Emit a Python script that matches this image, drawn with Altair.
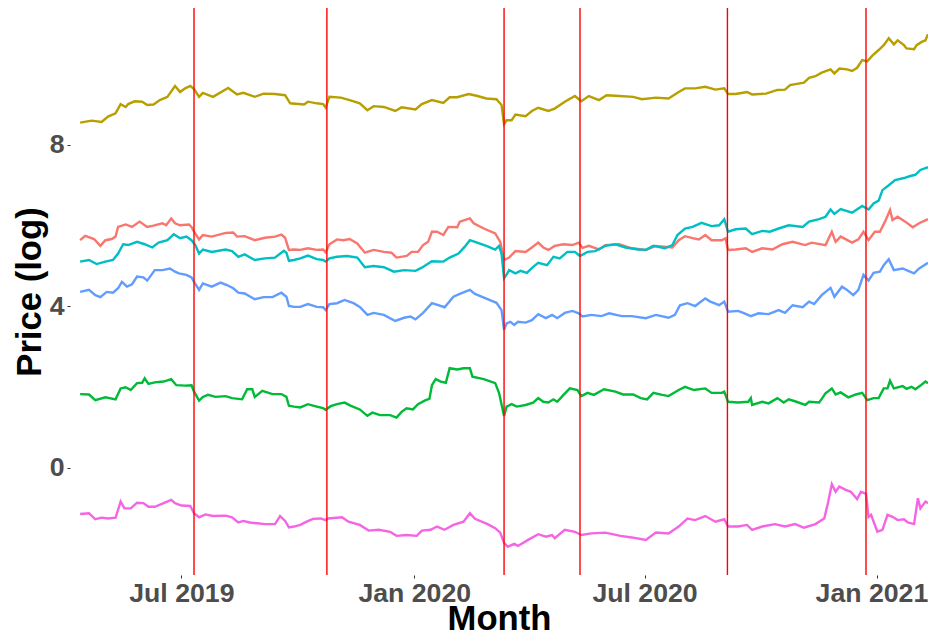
import altair as alt
import pandas as pd

START = pd.Timestamp("2019-04-12")

series_names = ["s1", "s2", "s3", "s4", "s5", "s6"]
series_colors = ["#F8766D", "#B79F00", "#00BA38", "#00BFC4", "#619CFF", "#F564E3"]

# days since 2019-04-12, values (log price)
s1_days = [0,4,11,16,20,25,28,30,36,41, 47,53,58,65,68,72,75,79,86,88,
           90,94,97,104,115,121,124,130,138,146, 154,159,162,165,169,174,180,187,192,194,
           197,203,208,213,219,225,232,240,246,250, 258,262,267,271,275,278,282,287,291,298,
           300,308,311,319,328,332,335,339,344,352, 357,362,366,370,375,382,389,394,397,402,
           410,415,426,436,447,455,468,473,478,484, 489,494,499,507,510,512,518,526,531,539,
           547,555,563,573,578,589,594,597,601,610, 615,619,623,628,632,636,640,642,646,652,
           658,663,670]
s1_vals = [5.64,5.75,5.67,5.50,5.64,5.67,5.73,5.97,6.03,5.97, 6.10,5.97,6.00,6.06,6.01,6.18,6.06,6.01,6.03,5.97,
           5.85,5.66,5.77,5.73,5.82,5.83,5.73,5.74,5.64,5.70, 5.73,5.78,5.70,5.40,5.41,5.40,5.44,5.40,5.41,5.34,
           5.54,5.66,5.64,5.67,5.56,5.33,5.40,5.35,5.33,5.21, 5.25,5.35,5.35,5.52,5.60,5.85,5.85,5.77,5.97,5.96,
           6.10,6.18,6.06,5.93,5.81,5.60,5.15,5.21,5.37,5.35, 5.46,5.58,5.46,5.40,5.50,5.54,5.52,5.58,5.45,5.50,
           5.41,5.52,5.54,5.44,5.40,5.50,5.46,5.64,5.74,5.69, 5.66,5.77,5.64,5.64,5.69,5.40,5.41,5.44,5.35,5.44,
           5.41,5.54,5.60,5.52,5.58,5.52,5.85,5.60,5.73,5.58, 5.66,5.85,5.64,5.85,5.85,6.10,6.39,6.14,6.22,6.10,
           5.96,6.06,6.16]

s2_days = [0,9,17,22,28,32,36,38,43,49, 53,58,63,69,75,79,83,87,90,94,
           97,105,117,124,129,138,145,154,162,166, 177,180,187,192,194,197,206,213,221,227,
           232,240,249,254,265,270,278,287,292,298, 307,314,321,329,333,335,337,341,344,352,
           357,362,370,375,383,391,396,402,410,416, 426,437,444,455,465,473,478,486,494,502,
           509,512,518,527,531,542,551,557,561,572, 576,581,586,593,596,600,606,610,614,618,
           622,626,631,635,639,643,646,651,653,659, 661,665,668,670]
s2_vals = [8.55,8.60,8.57,8.70,8.78,9.01,8.94,9.01,9.08,9.07, 8.99,9.00,9.11,9.19,9.46,9.31,9.40,9.46,9.38,9.19,
           9.29,9.19,9.41,9.25,9.29,9.19,9.27,9.26,9.23,9.03, 9.00,9.07,9.03,9.01,8.92,9.19,9.17,9.11,9.03,8.86,
           8.96,8.94,8.84,8.93,8.88,9.01,9.11,9.04,9.18,9.18, 9.26,9.21,9.15,9.13,8.99,8.51,8.61,8.61,8.75,8.71,
           8.84,8.92,8.84,8.90,9.07,9.21,9.08,9.21,9.11,9.23, 9.21,9.19,9.13,9.17,9.15,9.31,9.40,9.40,9.44,9.37,
           9.40,9.26,9.26,9.31,9.25,9.27,9.36,9.37,9.48,9.54, 9.66,9.70,9.79,9.87,9.77,9.89,9.87,9.83,9.91,10.10,
           10.07,10.21,10.35,10.47,10.64,10.49,10.59,10.47,10.39,10.37, 10.47,10.55,10.59,10.74]

s3_days = [0,7,12,20,28,32,36,40,45,49, 51,54,59,66,72,76,83,88,90,94,
           97,101,107,115,120,128,132,136,138,144, 152,159,163,165,169,174,180,187,192,194,
           198,203,209,214,221,227,231,237,245,250, 254,258,263,267,273,276,278,281,285,289,
           292,298,303,308,310,319,328,331,335,337, 341,345,352,358,362,366,370,374,377,382,
           387,393,396,401,406,414,423,429,437,443, 448,453,460,465,473,478,485,494,499,507,
           509,512,520,528,530,531,539,544,551,556, 560,566,573,576,584,589,594,597,601,607,
           613,618,622,627,631,635,638,640,643,650, 653,657,660,664,668,670]
s3_vals = [1.83,1.82,1.68,1.75,1.70,1.97,2.00,1.93,2.10,2.11, 2.22,2.08,2.12,2.14,2.20,2.05,2.04,2.05,1.89,1.67,
           1.76,1.81,1.76,1.78,1.73,1.70,1.95,1.95,1.76,1.91, 1.83,1.83,1.76,1.54,1.52,1.50,1.58,1.52,1.48,1.44,
           1.53,1.58,1.62,1.54,1.45,1.29,1.37,1.31,1.31,1.25, 1.39,1.48,1.45,1.58,1.68,1.71,2.05,2.20,2.14,2.11,
           2.47,2.44,2.47,2.47,2.26,2.20,2.10,1.86,1.29,1.52, 1.58,1.52,1.56,1.62,1.73,1.64,1.62,1.70,1.64,1.81,
           1.97,1.93,1.78,1.86,1.81,1.95,1.89,1.82,1.82,1.73, 1.70,1.86,1.81,1.78,1.93,2.01,1.93,1.97,1.86,1.86,
           1.89,1.64,1.62,1.64,1.73,1.56,1.64,1.60,1.73,1.62, 1.70,1.64,1.56,1.64,1.62,1.85,1.97,1.82,1.87,1.75,
           1.82,1.86,1.68,1.73,1.73,1.97,1.97,2.16,1.97,2.03, 1.96,2.01,1.95,2.04,2.14,2.10]

s4_days = [0,7,13,20,26,30,34,38,45,51, 57,62,69,74,79,84,88,91,94,97,
           104,115,120,125,130,138,146,154,161,163, 165,169,174,180,187,192,194,197,203,211,
           219,225,232,240,248,256,265,270,278,287, 292,299,304,308,312,321,328,331,333,335,
           337,339,344,348,353,358,362,369,374,379, 385,391,395,401,407,415,423,431,441,447,
           453,462,468,472,478,484,491,499,505,509, 512,518,526,531,539,545,552,560,571,576,
           584,589,593,596,601,610,618,623,627,631, 634,639,644,651,656,660,664,670]
s4_vals = [5.11,5.15,5.05,5.11,5.15,5.31,5.54,5.52,5.60,5.54, 5.46,5.58,5.64,5.79,5.69,5.73,5.64,5.52,5.31,5.41,
           5.35,5.41,5.37,5.23,5.29,5.15,5.19,5.21,5.38,5.33, 5.13,5.15,5.19,5.26,5.17,5.15,5.11,5.19,5.23,5.25,
           5.21,4.97,5.00,4.97,4.86,4.90,4.88,4.96,5.12,5.11, 5.21,5.31,5.48,5.64,5.60,5.50,5.41,5.50,5.31,4.70,
           4.79,4.90,4.82,4.88,4.83,4.98,5.08,5.02,5.23,5.19, 5.35,5.35,5.25,5.35,5.37,5.50,5.54,5.46,5.41,5.40,
           5.50,5.44,5.52,5.77,5.93,5.97,6.07,5.99,6.01,6.16, 5.85,5.91,5.93,5.79,5.87,5.85,5.93,6.01,5.97,6.10,
           6.16,6.22,6.40,6.29,6.41,6.32,6.49,6.40,6.55,6.62, 6.88,7.00,7.13,7.18,7.23,7.26,7.38,7.45]

s5_days = [0,7,12,16,21,26,30,33,37,41, 45,50,53,59,65,71,75,78,84,88,
           90,94,97,104,111,116,121,125,130,138, 145,152,159,163,165,169,174,180,187,192,
           194,197,203,209,216,221,227,232,240,249, 256,261,265,271,278,283,288,295,300,308,
           312,322,329,333,335,337,340,343,346,352, 357,362,368,373,377,383,389,394,397,404,
           412,418,428,436,447,455,465,470,474,480, 486,494,498,505,509,512,520,524,530,536,
           544,552,557,563,571,576,580,586,593,596, 602,606,611,615,619,623,627,632,635,639,
           643,650,653,659,663,670]
s5_vals = [4.36,4.41,4.28,4.23,4.36,4.34,4.45,4.61,4.49,4.55, 4.74,4.72,4.64,4.90,4.90,4.94,4.86,4.82,4.78,4.72,
           4.61,4.41,4.57,4.49,4.59,4.53,4.45,4.34,4.32,4.18, 4.23,4.23,4.34,4.24,4.01,3.99,3.99,4.06,3.99,3.98,
           3.91,4.06,4.08,4.16,4.08,3.99,3.79,3.84,3.79,3.64, 3.72,3.75,3.68,3.84,4.08,4.03,3.98,4.24,4.31,4.41,
           4.31,4.18,4.09,3.91,3.42,3.58,3.62,3.54,3.62,3.60, 3.66,3.81,3.71,3.79,3.71,3.84,3.89,3.83,3.75,3.79,
           3.76,3.83,3.76,3.76,3.71,3.79,3.72,3.79,4.03,4.08, 4.01,4.20,4.12,4.03,4.12,3.87,3.89,3.84,3.76,3.83,
           3.81,3.91,3.84,4.03,3.98,4.12,4.06,4.28,4.46,4.24, 4.49,4.41,4.28,4.41,4.78,4.64,4.83,4.86,5.02,5.17,
           4.90,4.94,4.90,4.82,4.94,5.08]

s6_days = [0,7,12,17,22,28,30,32,35,40, 45,50,54,59,66,72,75,80,87,90,
           94,99,105,115,120,125,129,134,140,146, 154,158,162,165,169,174,179,184,190,194,
           196,207,212,221,228,236,245,250,258,266, 270,277,282,288,295,303,308,312,322,328,
           332,335,338,343,346,354,362,368,373,375, 383,391,396,404,415,427,436,447,455,465,
           473,480,486,494,502,509,512,520,527,531, 539,549,557,565,572,581,588,591,594,597,
           600,605,609,614,617,621,623,625,630,634, 638,642,646,651,654,659,662,664,668,670]
s6_vals = [-1.14,-1.12,-1.27,-1.23,-1.25,-1.23,-1.04,-0.83,-1.00,-1.00, -0.86,-0.87,-0.96,-0.96,-0.87,-0.79,-0.87,-0.93,-0.94,-1.12,
           -1.22,-1.15,-1.19,-1.18,-1.22,-1.35,-1.31,-1.35,-1.37,-1.39, -1.39,-1.19,-1.31,-1.47,-1.45,-1.41,-1.33,-1.26,-1.25,-1.29,
           -1.25,-1.22,-1.33,-1.41,-1.55,-1.53,-1.58,-1.68,-1.66,-1.68, -1.55,-1.53,-1.45,-1.53,-1.41,-1.33,-1.12,-1.26,-1.39,-1.49,
           -1.60,-1.86,-1.95,-1.88,-1.93,-1.78,-1.64,-1.70,-1.66,-1.74, -1.53,-1.58,-1.66,-1.62,-1.60,-1.68,-1.72,-1.78,-1.60,-1.62,
           -1.45,-1.25,-1.29,-1.19,-1.33,-1.27,-1.45,-1.45,-1.41,-1.53, -1.45,-1.39,-1.45,-1.39,-1.48,-1.39,-1.25,-0.86,-0.40,-0.59,
           -0.46,-0.54,-0.59,-0.77,-0.59,-0.64,-1.21,-1.16,-1.58,-1.53, -1.16,-1.21,-1.29,-1.27,-1.35,-1.39,-0.75,-1.00,-0.83,-0.87]

event_dates = ["2019-07-11 00:00", "2019-10-24 00:00", "2020-03-12 00:00",
               "2020-05-11 00:00", "2020-09-04 12:00", "2020-12-23 00:00"]
y_ticks = [0, 4, 8]

all_days = [s1_days, s2_days, s3_days, s4_days, s5_days, s6_days]
all_vals = [s1_vals, s2_vals, s3_vals, s4_vals, s5_vals, s6_vals]

rows = []
for name, days, vals in zip(series_names, all_days, all_vals):
    assert len(days) == len(vals), name
    for d, v in zip(days, vals):
        rows.append({"series": name, "date": START + pd.Timedelta(days=d), "price": v})
df = pd.DataFrame(rows)
events = pd.DataFrame({"date": pd.to_datetime(event_dates, format="%Y-%m-%d %H:%M")})

FONT = "Liberation Sans"
x_scale = alt.Scale(domain=[alt.DateTime(year=2019, month=4, date=4),
                            alt.DateTime(year=2021, month=2, date=10)], nice=False)
y_scale = alt.Scale(domain=[-2.65, 11.39], nice=False, zero=False)

x_axis = alt.Axis(
    values=[alt.DateTime(year=2019, month=7, date=1), alt.DateTime(year=2020, month=1, date=1),
            alt.DateTime(year=2020, month=7, date=1), alt.DateTime(year=2021, month=1, date=1)],
    format="%b %Y", labelFontSize=26.67, labelFontWeight="bold", labelColor="#4D4D4D",
    tickColor="#333333", tickSize=3, tickWidth=1, labelPadding=2, labelFlush=False, labelOverlap=False,
    labelOffset={"condition": {"test": "datum.value > 1606780800000", "value": -6}, "value": 0},
    title="Month", titleFontSize=34.67, titleFontWeight="bold", titleColor="#000000",
    titleY=54, titleBaseline="alphabetic",
)
y_axis = alt.Axis(
    values=y_ticks, format="d", labelFontSize=26.67, labelFontWeight="bold", labelColor="#4D4D4D",
    tickColor="#333333", tickSize=3, tickWidth=1, labelPadding=3,
    title="Price (log)", titleFontSize=34.67, titleFontWeight="bold", titleColor="#000000", titlePadding=2,
)

lines = alt.Chart(df).mark_line(strokeWidth=2.4).encode(
    x=alt.X("date:T", scale=x_scale, axis=x_axis),
    y=alt.Y("price:Q", scale=y_scale, axis=y_axis),
    color=alt.Color("series:N", scale=alt.Scale(domain=series_names, range=series_colors), legend=None),
    order="date:T",
)
rules = alt.Chart(events).mark_rule(color="#FF0000", strokeWidth=1.4).encode(
    x=alt.X("date:T", scale=x_scale),
)

chart = alt.layer(lines, rules).properties(
    width=858, height=567,
    autosize=alt.AutoSizeParams(type="none"),
    padding={"left": 62, "top": 0, "right": 0, "bottom": 57},
).configure_view(stroke=None).configure_axis(
    grid=False, domain=False, labelFont=FONT, titleFont=FONT
)

chart.save("out.html", embed_options={"renderer": "svg", "actions": False})
